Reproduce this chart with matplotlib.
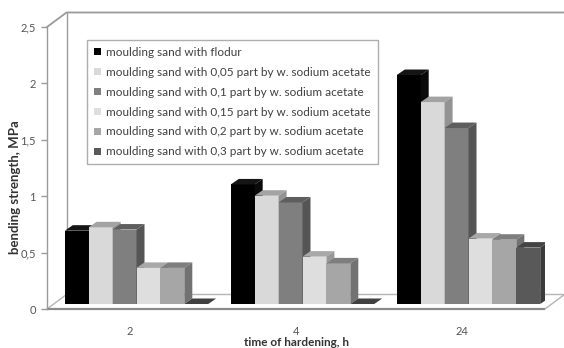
import matplotlib.pyplot as plt
from matplotlib.patches import Polygon, Patch
import numpy as np

plt.rcParams['font.family'] = ['Lato', 'DejaVu Sans']

# data
hours = ['2', '4', '24']
series_names = [
    'moulding sand with flodur',
    'moulding sand with 0,05 part by w. sodium acetate',
    'moulding sand with 0,1 part by w. sodium acetate',
    'moulding sand with 0,15 part by w. sodium acetate',
    'moulding sand with 0,2 part by w. sodium acetate',
    'moulding sand with 0,3 part by w. sodium acetate',
]
flodur = [0.65, 1.06, 2.03]
acetate_005 = [0.68, 0.96, 1.79]
acetate_01 = [0.66, 0.90, 1.56]
acetate_015 = [0.32, 0.42, 0.58]
acetate_02 = [0.32, 0.36, 0.57]
acetate_03 = [0.0, 0.0, 0.50]
y_ticks = [0, 0.5, 1, 1.5, 2, 2.5]
y_ticklabels = ['0', '0,5', '1', '1,5', '2', '2,5']

series = [flodur, acetate_005, acetate_01, acetate_015, acetate_02, acetate_03]
# (front, top, side) shades of grey for each series
shades = [
    ('#000000', '#151515', '#0a0a0a'),
    ('#d9d9d9', '#a3a3a3', '#939393'),
    ('#7f7f7f', '#5e5e5e', '#555555'),
    ('#dedede', '#a8a8a8', '#989898'),
    ('#a6a6a6', '#7e7e7e', '#727272'),
    ('#595959', '#444444', '#3a3a3a'),
]

fig = plt.figure(figsize=(5.64, 3.48), dpi=100)
ax = fig.add_axes([47 / 564, 39 / 348, 498 / 564, 282 / 348])
ax.set_xlim(-0.5, 2.5)
ax.set_ylim(0, 2.5)

x = np.arange(len(hours))
n = len(series)
width = 0.144
edge_col = '#9a9a9a'


def px(dx, dy):
    # pixel offset -> data offset
    sx = ax.bbox.width / 3.0
    sy = ax.bbox.height / 2.5
    return dx / sx, dy / sy


# walls and floor
wx, wy = px(19.5, 14.5)
floor = Polygon([(-0.5, 0), (2.5, 0), (2.5 + wx, wy), (-0.5 + wx, wy)],
                closed=True, facecolor='white', edgecolor='#b5b5b5',
                lw=1.0, zorder=1, clip_on=False)
ax.add_patch(floor)
ax.plot([-0.5, 2.5], [0, 0], color='#8a8a8a', lw=1.6, zorder=1.5,
        clip_on=False, solid_capstyle='butt')
ax.plot([-0.5 + wx, -0.5 + wx], [wy, 2.5 + wy], color=edge_col, lw=1.0,
        zorder=1, clip_on=False)
ax.plot([-0.5, -0.5 + wx, 2.6 + wx], [2.5, 2.5 + wy, 2.5 + wy],
        color=edge_col, lw=1.3, zorder=1, clip_on=False)

# 3D-looking bars
bx, by = px(6.5, 5)
dx, dy = px(8, 5.5)
for i, (vals, (c_front, c_top, c_side)) in enumerate(zip(series, shades)):
    pos = x - n * width / 2 + (i + 0.5) * width + bx
    vals = np.array(vals)
    z = 3 + i
    ax.bar(pos, vals, width=width, bottom=by, color=c_front, lw=0, zorder=z)
    for p, v in zip(pos, vals):
        xl = p - width / 2
        xr = p + width / 2
        top = by + v
        top_col = c_top if v > 0 else '#404040'
        ax.add_patch(Polygon([(xl, top), (xr, top), (xr + dx, top + dy),
                              (xl + dx, top + dy)], closed=True,
                             facecolor=top_col, lw=0, zorder=z))
        if v > 0:
            ax.add_patch(Polygon([(xr, by), (xr + dx, by + dy),
                                  (xr + dx, top + dy), (xr, top)],
                                 closed=True, facecolor=c_side, lw=0,
                                 zorder=z))

# axes styling
for s in ['top', 'right', 'bottom']:
    ax.spines[s].set_visible(False)
ax.spines['left'].set_color(edge_col)
ax.spines['left'].set_linewidth(1.0)
ax.set_yticks(y_ticks)
ax.set_yticklabels(y_ticklabels)
ax.set_xticks(x)
ax.set_xticklabels(hours)
ax.tick_params(axis='y', direction='out', length=4, width=1.0,
               color=edge_col, labelcolor='#555555', labelsize=8, pad=4)
ax.tick_params(axis='x', length=0, labelcolor='#555555', labelsize=8, pad=12)
ax.patch.set_visible(False)

fig.text(15 / 564, 1 - 187 / 348, 'bending strength, MPa', rotation=90,
         ha='center', va='center', fontsize=9.5, fontweight='bold',
         color='#333333')
fig.text(296 / 564, 1 - 342 / 348, 'time of hardening, h', ha='center',
         va='center', fontsize=8.5, fontweight='bold', color='#333333')

handles = [Patch(facecolor=s[0], edgecolor='none') for s in shades]
leg = fig.legend(handles, series_names, loc='upper left',
                 bbox_to_anchor=(87 / 564, 1 - 40 / 348), borderaxespad=0,
                 fontsize=8.5, frameon=True, fancybox=False,
                 handlelength=0.55, handleheight=0.55, handletextpad=0.5,
                 labelspacing=0.75, borderpad=0.6, labelcolor='#404040')
leg.get_frame().set_edgecolor('#9a9a9a')
leg.get_frame().set_linewidth(1.0)

fig.savefig('out.png', dpi=100)
